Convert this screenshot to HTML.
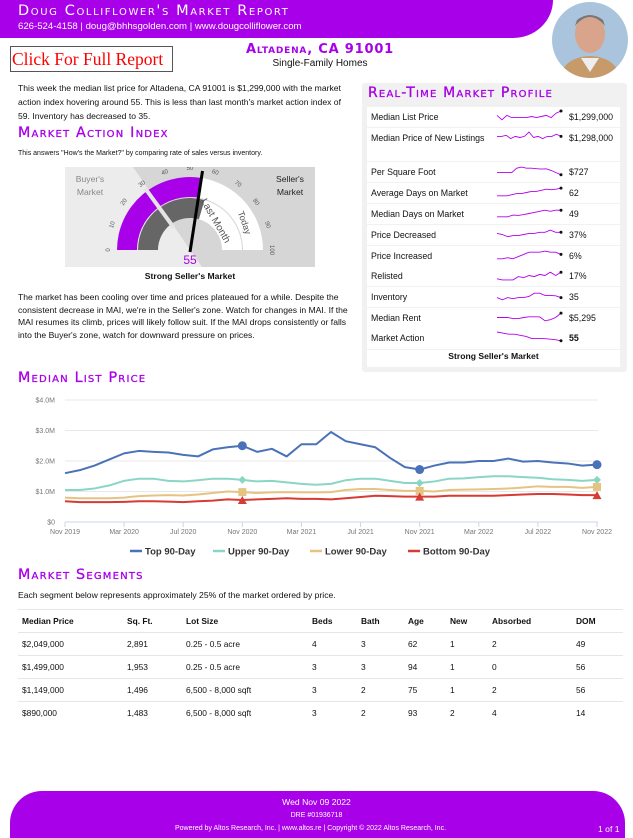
<!DOCTYPE html>
<html><head><meta charset="utf-8">
<style>
*{margin:0;padding:0;box-sizing:border-box}
body{width:633px;height:838px;position:relative;background:#fff;font-family:"Liberation Sans",sans-serif;color:#111;overflow:hidden}
.a{position:absolute}
.h{color:#a800e8;font-variant:small-caps;font-weight:normal;letter-spacing:1.2px;font-size:14.3px;font-family:"DejaVu Sans","Liberation Sans",sans-serif;white-space:nowrap;-webkit-text-stroke:0.3px #a800e8}
.p{font-size:8.6px;line-height:14px}
.row{position:absolute;left:367px;width:253px;background:#fff;font-size:8.8px}
.row .l{position:absolute;left:4px}
.row .v{position:absolute;left:202px}
table{border-collapse:collapse;font-size:8.4px;table-layout:fixed}
td,th{text-align:left;height:23px;padding:0 0 0 4px;border-top:1px solid #e6e6e6}
</style></head><body>
<div class="a" style="left:0;top:0;width:553px;height:38px;background:#a800e8;border-radius:0 0 40px 0 / 0 0 38px 0"></div>
<div class="a" style="left:18px;top:3px;color:#fff;font-variant:small-caps;font-size:14.5px;letter-spacing:1.6px;font-family:'DejaVu Sans',sans-serif;white-space:nowrap">Doug Colliflower's Market Report</div>
<div class="a" style="left:18px;top:21px;color:#fff;font-size:9.6px;white-space:nowrap">626-524-4158 | doug@bhhsgolden.com | www.dougcolliflower.com</div>
<svg class="a" style="left:551px;top:2px" width="78" height="78"><defs><clipPath id="c"><ellipse cx="39" cy="38" rx="38" ry="38"/></clipPath></defs><g clip-path="url(#c)"><rect width="78" height="78" fill="#a9c4dc"/><ellipse cx="39" cy="32" rx="15" ry="19" fill="#d8a48c"/><path d="M24 24 Q39 6 54 24 L52 18 Q39 8 26 18Z" fill="#777"/><path d="M8 78 Q12 55 39 54 Q66 55 70 78Z" fill="#c79a6a"/><path d="M30 56 L39 70 L48 56Z" fill="#eee"/></g></svg>
<div class="a" style="left:10px;top:46px;width:163px;height:26px;border:1px solid #555;color:#f00;font-family:'Liberation Serif',serif;font-size:17.5px;line-height:24px;padding-left:1px;white-space:nowrap;overflow:hidden">Click For Full Report</div>
<div class="a h" style="left:220px;top:42px;width:200px;text-align:center;font-size:13px;font-weight:bold;letter-spacing:0.8px;-webkit-text-stroke:0">Altadena, CA 91001</div>
<div class="a" style="left:240px;top:58px;width:160px;text-align:center;font-size:10px">Single-Family Homes</div>
<div class="a p" style="left:18px;top:81px;width:330px">This week the median list price for Altadena, CA 91001 is $1,299,000 with the market action index hovering around 55. This is less than last month's market action index of 59. Inventory has decreased to 35.</div>
<div class="a h" style="left:18px;top:125px">Market Action Index</div>
<div class="a" style="left:18px;top:150px;font-size:7px">This answers "How's the Market?" by comparing rate of sales versus inventory.</div>
<svg class="a" id="gauge" style="left:65px;top:167px" width="250" height="100"></svg>
<div class="a" style="left:65px;top:271px;width:250px;text-align:center;font-size:8.6px;font-weight:bold">Strong Seller's Market</div>
<div class="a p" style="left:18px;top:291px;width:336px;line-height:12.5px">The market has been cooling over time and prices plateaued for a while. Despite the consistent decrease in MAI, we're in the Seller's zone. Watch for changes in MAI. If the MAI resumes its climb, prices will likely follow suit. If the MAI drops consistently or falls into the Buyer's zone, watch for downward pressure on prices.</div>

<div class="a" style="left:362px;top:83px;width:265px;height:289px;background:#f1f1f1;border-radius:3px"></div>
<div class="a h" style="left:368px;top:85px;font-size:14px">Real-Time Market Profile</div>
<div id="rows"></div>
<div class="a" style="left:367px;top:350px;width:253px;text-align:center;font-size:8.6px;font-weight:bold;background:#fff;height:17px;line-height:13px">Strong Seller's Market</div>

<div class="a h" style="left:18px;top:370px">Median List Price</div>
<svg class="a" id="chart" style="left:0;top:390px" width="633" height="175"></svg>

<div class="a h" style="left:18px;top:567px">Market Segments</div>
<div class="a" style="left:18px;top:590px;font-size:8.6px">Each segment below represents approximately 25% of the market ordered by price.</div>
<table class="a" style="left:18px;top:609px;width:605px">
<colgroup><col style="width:105px"><col style="width:59px"><col style="width:126px"><col style="width:49px"><col style="width:47px"><col style="width:42px"><col style="width:42px"><col style="width:84px"><col style="width:51px"></colgroup>
<tr><th>Median Price</th><th>Sq. Ft.</th><th>Lot Size</th><th>Beds</th><th>Bath</th><th>Age</th><th>New</th><th>Absorbed</th><th>DOM</th></tr>
<tr><td>$2,049,000</td><td>2,891</td><td>0.25 - 0.5 acre</td><td>4</td><td>3</td><td>62</td><td>1</td><td>2</td><td>49</td></tr>
<tr><td>$1,499,000</td><td>1,953</td><td>0.25 - 0.5 acre</td><td>3</td><td>3</td><td>94</td><td>1</td><td>0</td><td>56</td></tr>
<tr><td>$1,149,000</td><td>1,496</td><td>6,500 - 8,000 sqft</td><td>3</td><td>2</td><td>75</td><td>1</td><td>2</td><td>56</td></tr>
<tr><td>$890,000</td><td>1,483</td><td>6,500 - 8,000 sqft</td><td>3</td><td>2</td><td>93</td><td>2</td><td>4</td><td>14</td></tr>
</table>

<div class="a" style="left:10px;top:791px;width:615px;height:47px;background:#a800e8;border-radius:32px 32px 0 0"></div>
<div class="a" style="left:0;top:797px;width:633px;text-align:center;color:#fff;font-size:8.6px">Wed Nov 09 2022</div>
<div class="a" style="left:0;top:812px;width:633px;text-align:center;color:#fff;font-size:7px">DRE #01936718</div>
<div class="a" style="left:0;top:825px;width:621px;text-align:center;color:#fff;font-size:7px">Powered by Altos Research, Inc. | www.altos.re | Copyright © 2022 Altos Research, Inc.</div>
<div class="a" style="left:598px;top:824px;color:#fff;font-size:8.6px">1 of 1</div>

<script>
const NS='http://www.w3.org/2000/svg';
function mk(p,t,a){const e=document.createElementNS(NS,t);for(const k in a)e.setAttribute(k,a[k]);p.appendChild(e);return e;}

// ---- profile rows ----
const profLabels=["Median List Price","Median Price of New Listings","Per Square Foot","Average Days on Market","Median Days on Market","Price Decreased","Price Increased","Relisted","Inventory","Median Rent","Market Action"];
const profValues=["$1,299,000","$1,298,000","$727","62","49","37%","6%","17%","35","$5,295","55"];
const sparkData=[
[3,1,3,2,2,2,2,2.5,2,2.5,3,2,4,5],
[3,3,3.5,2,3,2.5,3,5,2.5,3,2,3,3,4,3],
[2,2,2,2,4,4.5,4,4,3.8,3.6,3.7,3,2,1],
[1,1,1,1.5,2,2,2.5,3,3,3.5,4,3.8,4,4.5],
[1,1,1,1.8,1.6,2,2.5,3,3.5,4,3.5,4,4],
[3,2.5,1.5,2,2,2.5,3,3,3.5,3.5,4.5,3.5,3.5],
[1,1,1.5,1,2,3,4,4,4,4.5,4,4,3],
[1,0.5,0.5,0.5,2,1.5,2.5,2,3,2.5,4,2.5,4],
[2,1,2,1.5,2,2,2.5,4,4,3,3,2.8,2],
[2.5,2.5,2.5,2,2,2.5,2.8,2.8,2.8,1,1.5,2.5,4.5],
[5,4.5,4,4,3.5,3,2,2,2,1.8,1.5,1]];
const rowTops=[107,128,162,183,204,225,246,266,287,308,328];
const rowHs=[20,33,20,20,20,20,20,20,20,20,21];
const rowsDiv=document.getElementById('rows');
profLabels.forEach((lab,i)=>{
  const r=document.createElement('div');r.className='row';
  
  
  r.style.top=rowTops[i]+'px';r.style.height=rowHs[i]+'px';
  r.innerHTML='<span class="l" style="top:3px;width:120px;line-height:14px">'+lab+'</span><span class="v" style="top:3px;line-height:14px;'+(i==10?'font-weight:bold':'')+'">'+profValues[i]+'</span>';
  const s=document.createElementNS(NS,'svg');s.setAttribute('width','70');s.setAttribute('height','16');
  s.style.position='absolute';s.style.left='128px';s.style.top='1px';
  
  
  const d=sparkData[i];const n=d.length;
  const pts=d.map((v,j)=>[2+j*64/(n-1),14-v*2.2]);
  mk(s,'polyline',{points:pts.map(p=>p.join(',')).join(' '),fill:'none',stroke:'#b400f0','stroke-width':'0.9'});
  const L=pts[n-1];mk(s,'circle',{cx:L[0],cy:L[1],r:1.5,fill:'#111'});
  r.appendChild(s);rowsDiv.appendChild(r);
});

// ---- gauge ----
const gaugeToday=55, gaugeLast=59, gaugeThreshold=30;
(function(){
const g=document.getElementById('gauge');
const cx=125,cy=83;
mk(g,'rect',{x:0,y:0,width:250,height:100,fill:'#d6d6d6'});
mk(g,'polygon',{points:'0,0 68,0 137,100 0,100',fill:'#ececec'});
function pt(v,r){const t=Math.PI-v/100*Math.PI;return [cx+r*Math.cos(t),cy-r*Math.sin(t)];}
function arc(v0,v1,r0,r1,fill){const a=pt(v0,r1),b=pt(v1,r1),c=pt(v1,r0),d=pt(v0,r0);
 mk(g,'path',{d:`M${a}A${r1},${r1} 0 0 1 ${b}L${c}A${r0},${r0} 0 0 0 ${d}Z`,fill});}
arc(0,100,53,73,'#fff');arc(0,gaugeToday,53,73,'#a800e8');
arc(0,100,32,52,'#fff');arc(0,gaugeLast,32,52,'#666');
const t0=pt(gaugeThreshold,28),t1=pt(gaugeThreshold,76);
mk(g,'line',{x1:t0[0],y1:t0[1],x2:t1[0],y2:t1[1],stroke:'#e4e4e4','stroke-width':4});
for(let v=0;v<=100;v+=10){const p=pt(v,80);const e=mk(g,'text',{x:p[0],y:p[1],'font-size':6,fill:'#555','text-anchor':'middle',transform:`rotate(${v*1.8-90} ${p[0]} ${p[1]})`});e.textContent=v;}
let e=mk(g,'text',{x:0,y:0,'font-size':10,fill:'#555',transform:`translate(${pt(72,36)}) rotate(60)`,'text-anchor':'middle'});e.textContent='Last Month';
e=mk(g,'text',{x:0,y:0,'font-size':9,fill:'#555',transform:`translate(${pt(85,58)}) rotate(70)`,'text-anchor':'middle'});e.textContent='Today';
const n=pt(gaugeToday,80);
mk(g,'line',{x1:cx,y1:cy+2,x2:n[0],y2:n[1],stroke:'#000','stroke-width':3});
e=mk(g,'text',{x:cx,y:97,'font-size':12,fill:'#a800e8','text-anchor':'middle'});e.textContent=gaugeToday;
e=mk(g,'text',{x:25,y:15,'font-size':8.6,fill:'#888','text-anchor':'middle'});e.textContent="Buyer's";
e=mk(g,'text',{x:25,y:28,'font-size':8.6,fill:'#888','text-anchor':'middle'});e.textContent="Market";
e=mk(g,'text',{x:225,y:15,'font-size':8.6,fill:'#222','text-anchor':'middle'});e.textContent="Seller's";
e=mk(g,'text',{x:225,y:28,'font-size':8.6,fill:'#222','text-anchor':'middle'});e.textContent="Market";
})();

// ---- line chart ----
const xTickLabels=["Nov 2019","Mar 2020","Jul 2020","Nov 2020","Mar 2021","Jul 2021","Nov 2021","Mar 2022","Jul 2022","Nov 2022"];
const xTickMonths=[0,4,8,12,16,20,24,28,32,36];
const yTicks=[0,1,2,3,4];
const yTickLabels=["$0","$1.0M","$2.0M","$3.0M","$4.0M"];
const seriesNames=["Top 90-Day","Upper 90-Day","Lower 90-Day","Bottom 90-Day"];
const topSeries=[1.6,1.7,1.85,2.05,2.25,2.33,2.3,2.28,2.2,2.15,2.38,2.45,2.5,2.3,2.4,2.15,2.55,2.55,2.95,2.65,2.55,2.45,2.1,1.8,1.72,1.85,1.95,1.95,2.0,2.0,2.08,1.98,2.0,1.95,1.92,1.85,1.88];
const upperSeries=[1.05,1.05,1.1,1.2,1.35,1.42,1.42,1.35,1.33,1.37,1.42,1.42,1.38,1.33,1.35,1.3,1.25,1.22,1.25,1.37,1.42,1.42,1.35,1.28,1.28,1.33,1.42,1.43,1.47,1.5,1.5,1.47,1.45,1.4,1.38,1.35,1.38];
const lowerSeries=[0.8,0.78,0.78,0.78,0.8,0.85,0.87,0.88,0.87,0.9,0.95,1.0,0.98,0.95,0.97,0.98,0.97,0.97,0.98,1.05,1.08,1.08,1.05,1.02,1.02,1.0,1.05,1.06,1.07,1.08,1.1,1.13,1.17,1.15,1.15,1.12,1.15];
const bottomSeries=[0.68,0.65,0.65,0.65,0.66,0.68,0.68,0.67,0.65,0.68,0.7,0.74,0.72,0.74,0.76,0.78,0.76,0.76,0.74,0.78,0.82,0.86,0.85,0.83,0.83,0.83,0.86,0.86,0.86,0.86,0.88,0.9,0.92,0.92,0.9,0.88,0.88];
const markerMonths=[12,24,36];
(function(){
const s=document.getElementById('chart');
const X=m=>65+m*(597-65)/36, Y=v=>132-v*30.5;
yTicks.forEach((v,i)=>{
  mk(s,'line',{x1:65,x2:598,y1:Y(v),y2:Y(v),stroke:'#e8e8e8','stroke-width':1});
  const t=mk(s,'text',{x:55,y:Y(v)+2.5,'font-size':7,fill:'#777','text-anchor':'end'});t.textContent=yTickLabels[i];
});
mk(s,'line',{x1:65,x2:598,y1:Y(0),y2:Y(0),stroke:'#ccd6eb'});
xTickMonths.forEach((m,i)=>{
  mk(s,'line',{x1:X(m),x2:X(m),y1:Y(0),y2:Y(0)+5,stroke:'#ccd6eb'});
  const t=mk(s,'text',{x:X(m),y:Y(0)+12,'font-size':7,fill:'#777','text-anchor':'middle'});t.textContent=xTickLabels[i];
});
const cols=['#4a72b8','#8ad6c4','#e6c383','#d83a34'];
[topSeries,upperSeries,lowerSeries,bottomSeries].forEach((d,k)=>{
  const p=mk(s,'polyline',{points:d.map((v,j)=>X(j)+','+Y(v)).join(' '),fill:'none',stroke:cols[k],'stroke-width':2,'stroke-linejoin':'round'});
  
  markerMonths.forEach(m=>{const x=X(m),y=Y(d[m]);let e;
    if(k==0)e=mk(s,'circle',{cx:x,cy:y,r:4.5,fill:cols[k]});
    else if(k==1)e=mk(s,'polygon',{points:`${x},${y-4} ${x+4},${y} ${x},${y+4} ${x-4},${y}`,fill:cols[k]});
    else if(k==2)e=mk(s,'rect',{x:x-4,y:y-4,width:8,height:8,fill:cols[k]});
    else e=mk(s,'polygon',{points:`${x},${y-4} ${x+4.5},${y+4} ${x-4.5},${y+4}`,fill:cols[k]});
    
  });
});
const lx=[130,213,310,408];
seriesNames.forEach((n,k)=>{
  const g=mk(s,'g',{});
  
  
  mk(g,'line',{x1:lx[k],x2:lx[k]+12,y1:161,y2:161,stroke:cols[k],'stroke-width':2.5});
  const t=mk(g,'text',{x:lx[k]+15,y:164.5,'font-size':9.5,'font-weight':'bold',fill:'#333'});t.textContent=n;
});
})();
</script>
</body></html>
